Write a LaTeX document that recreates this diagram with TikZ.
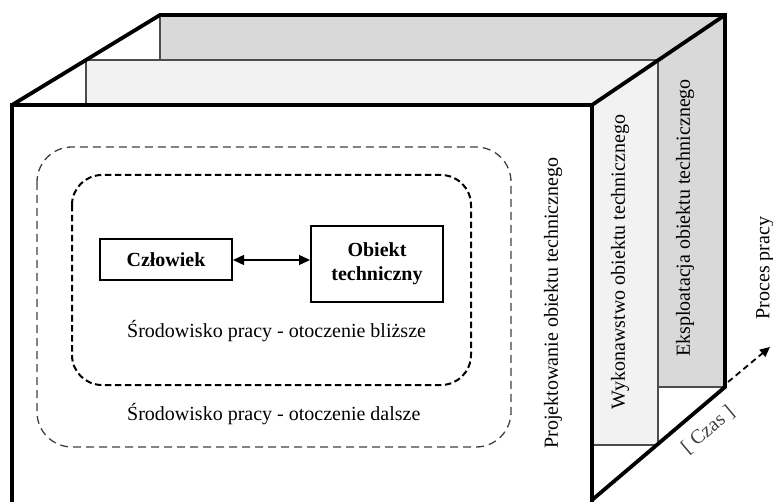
\documentclass[tikz,border=0pt]{standalone}
\usepackage{fontspec}
\setmainfont{Liberation Serif}
\usetikzlibrary{arrows.meta}
\definecolor{backgray}{HTML}{D9D9D9}
\definecolor{midgray}{HTML}{F2F2F2}
\begin{document}
\begin{tikzpicture}[x=1pt,y=-1pt,
  thickline/.style={line width=3.8pt, line join=miter},
  paneline/.style={line width=1.3pt, draw=black!70},
  boxnode/.style={draw, line width=2pt, inner sep=0pt, align=center,
    font=\fontsize{20}{24}\selectfont\bfseries},
  lbl/.style={font=\fontsize{20}{24}\selectfont, inner sep=0pt},
  tipstyle/.style={{Triangle[length=11pt,width=10pt]}-{Triangle[length=11pt,width=10pt]}}
]
\useasboundingbox (0,0) rectangle (773,502);
% layers
\fill[backgray] (160,15) -- (725,15) -- (725,387) -- (658,387) -- (658,60) -- (160,60) -- cycle;
\fill[midgray] (86,60) -- (658,60) -- (658,445) -- (592,445) -- (592,105) -- (86,105) -- cycle;
\draw[paneline] (160,60) -- (160,15);
\draw[paneline] (658,387) -- (725,387);
\draw[paneline] (86,105) -- (86,60) -- (658,60) -- (658,445) -- (592,445);
% thick outline
\draw[thickline] (12,503) -- (12,105) -- (592,105) -- (592,503);
\draw[thickline] (12,105) -- (160,15) -- (725,15) -- (725,387) -- (592,500);
\draw[thickline] (592,105) -- (725,15);
% environments
\draw[black!75, line width=1.3pt, dash pattern=on 8pt off 5pt, rounded corners=35pt]
  (37,147) rectangle (511,447);
\draw[line width=2pt, dash pattern=on 6.5pt off 3.5pt, rounded corners=30pt]
  (72,175) rectangle (471,385);
% boxes
\node[boxnode, minimum width=132pt, minimum height=41pt] (czl) at (166,260) {Człowiek};
\node[boxnode, minimum width=132pt, minimum height=76pt] (obj) at (377,264) {Obiekt\\techniczny};
\draw[tipstyle, line width=1.3pt] (czl.east) -- (czl.east -| obj.west);
% texts
\node[lbl, anchor=west] (blizsze) at (127,331) {Środowisko pracy - otoczenie bliższe};
\node[lbl, anchor=west] (dalsze) at (127,414) {Środowisko pracy - otoczenie dalsze};
\node[lbl, rotate=90] (proj) at (553,303) {Projektowanie obiektu technicznego};
\node[lbl, rotate=90] (wyk) at (620,262) {Wykonawstwo obiektu technicznego};
\node[lbl, rotate=90] (eks) at (685,218) {Eksploatacja obiektu technicznego};
\node[lbl, rotate=90] (proc) at (765,268) {Proces pracy};
\node[lbl, rotate=40, text=black!75] (czas) at (708,430) {[ Czas ]};
% time arrow
\coordinate (ts) at (728,382);
\coordinate (te) at (770,347);
\draw[line width=1.8pt, dash pattern=on 6pt off 4pt, -{Triangle[length=10pt,width=9pt]}] (ts) -- (te);
\end{tikzpicture}
\end{document}
